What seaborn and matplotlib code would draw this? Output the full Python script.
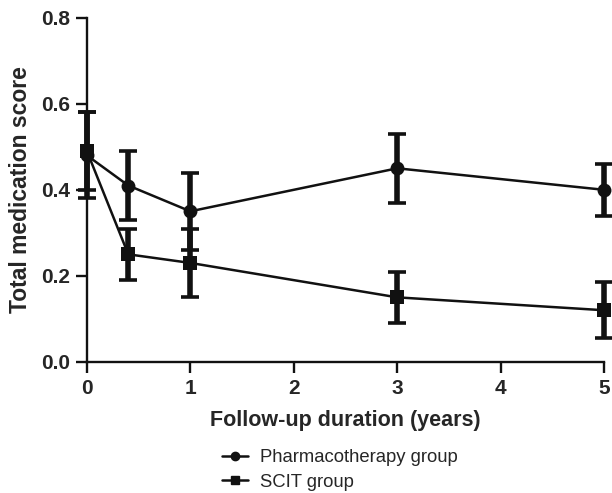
import pandas as pd
import matplotlib
matplotlib.use("Agg")
import matplotlib.pyplot as plt
import seaborn as sns
from matplotlib.lines import Line2D

years = [0, 0.4, 1, 3, 5]
pharma_mean = [0.48, 0.41, 0.35, 0.45, 0.40]
pharma_err = [0.10, 0.08, 0.09, 0.08, 0.06]
scit_mean = [0.49, 0.25, 0.23, 0.15, 0.12]
scit_err = [0.09, 0.06, 0.08, 0.06, 0.065]
groups = ["Pharmacotherapy group", "SCIT group"]

df = pd.DataFrame({
    "year": years * 2,
    "score": pharma_mean + scit_mean,
    "err": pharma_err + scit_err,
    "group": [groups[0]] * len(years) + [groups[1]] * len(years),
})

sns.set_style("ticks")
plt.rcParams["font.family"] = ["Liberation Sans", "DejaVu Sans"]

fig = plt.figure(figsize=(6.12, 4.93), dpi=100)
ax = fig.add_axes([0.142, 0.266, 0.845, 0.698])

sns.lineplot(data=df, x="year", y="score", hue="group", style="group",
             markers={groups[0]: "o", groups[1]: "s"}, dashes=False,
             palette=["#111111", "#111111"], markersize=10, linewidth=1.8,
             markeredgewidth=0, ax=ax, legend=False, clip_on=False, zorder=3)

# error bars (mean +/- SE)
for g in groups:
    sub = df[df["group"] == g]
    ax.errorbar(sub["year"], sub["score"], yerr=sub["err"], fmt="none",
                ecolor="#111111", elinewidth=4, capsize=6.5, capthick=2.6,
                clip_on=False, zorder=2)

ax.set_xlim(0, 5)
ax.set_ylim(0, 0.8)
ax.set_xticks([0, 1, 2, 3, 4, 5])
ax.set_yticks([0.0, 0.2, 0.4, 0.6, 0.8])
ax.set_yticklabels(["0.0", "0.2", "0.4", "0.6", "0.8"])
sns.despine(ax=ax)
for s in ["left", "bottom"]:
    ax.spines[s].set_linewidth(1.7)
    ax.spines[s].set_color("#111111")
ax.tick_params(width=1.7, length=8, pad=4, labelsize=15, color="#111111")
for lab in ax.get_xticklabels() + ax.get_yticklabels():
    lab.set_fontweight("bold")
ax.set_xlabel("Follow-up duration (years)", fontsize=15.5, fontweight="bold", labelpad=9)
ax.set_ylabel("Total medication score", fontsize=16.5, fontweight="bold", labelpad=7)

handles = [Line2D([], [], color="#111111", marker="o", lw=1.8, ms=6),
           Line2D([], [], color="#111111", marker="s", lw=1.8, ms=6)]
fig.legend(handles, groups, loc="center", bbox_to_anchor=(0.556, 0.047),
           frameon=False, fontsize=13.3, handlelength=1.4, handletextpad=0.65,
           labelspacing=0.4)

fig.savefig("out.png", dpi=100)
